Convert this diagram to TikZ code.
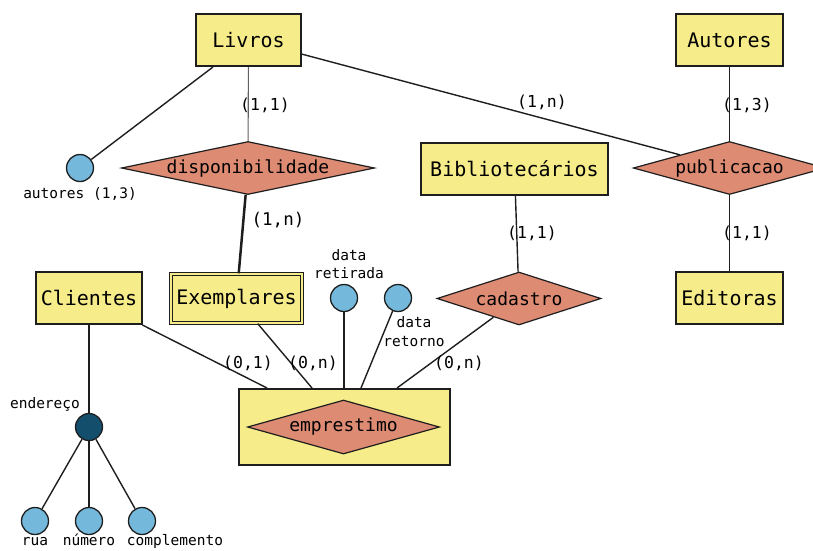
\documentclass[tikz,border=0pt]{standalone}
\usepackage{fontspec}
\setmainfont{DejaVu Sans Mono}
\usetikzlibrary{shapes.geometric}

\definecolor{entfill}{RGB}{246,236,138}
\definecolor{relfill}{RGB}{222,139,116}
\definecolor{attfill}{RGB}{116,185,219}
\definecolor{compfill}{RGB}{19,79,108}
\definecolor{edgecol}{RGB}{30,30,30}

\tikzset{
  entity/.style={draw=edgecol, line width=1.6pt, fill=entfill, inner sep=0pt,
    minimum height=52.4pt, font=\fontsize{20}{24}\selectfont},
  weakentity/.style={entity, double=entfill, double distance=1.8pt, line width=0.95pt},
  relation/.style={diamond, draw=edgecol, line width=1.2pt, fill=relfill, inner sep=0pt,
    aspect=4.8, font=\fontsize{18}{22}\selectfont},
  attr/.style={circle, draw=edgecol, line width=1.3pt, fill=attfill, inner sep=0pt,
    minimum size=27pt},
  compattr/.style={attr, fill=compfill},
  card/.style={inner sep=0pt, font=\fontsize{16.5}{20}\selectfont},
  bigcard/.style={inner sep=0pt, font=\fontsize{17.5}{21}\selectfont},
  attrlabel/.style={inner sep=0pt, align=center, font=\fontsize{14.5}{18.5}\selectfont},
  conn/.style={draw=edgecol, line width=1.4pt},
  strongconn/.style={draw=edgecol, line width=2.5pt},
}

\begin{document}
\begin{tikzpicture}[x=1pt, y=-1pt]
  \useasboundingbox (0,0) rectangle (813,550);

  % entities
  \node[entity, minimum width=105.4pt] (livros) at (248.5,40) {Livros};
  \node[entity, minimum width=107.4pt] (autores) at (729.5,40) {Autores};
  \node[entity, minimum width=187.4pt] (biblio) at (514.5,169) {Bibliotecários};
  \node[entity, minimum width=106.4pt] (clientes) at (89,298) {Clientes};
  \node[weakentity, minimum width=131.4pt, minimum height=49.4pt] (exemplares) at (236.5,298.5) {Exemplares};
  \node[entity, minimum width=107.4pt] (editoras) at (729.5,298) {Editoras};

  % aggregated relationship: box with diamond inside
  \node[entity, minimum width=211.4pt, minimum height=76.4pt] (empbox) at (344.5,427) {};
  \node[relation, minimum width=191pt, minimum height=54pt] (emp) at (343.5,427) {emprestimo};

  % relationships
  \node[relation, minimum width=253pt, minimum height=53pt] (disp) at (248,168) {disponibilidade};
  \node[relation, minimum width=182pt, minimum height=53pt] (pub) at (729.5,168) {publicacao};
  \node[relation, minimum width=164pt, minimum height=53pt] (cad) at (519,298.5) {cadastro};

  % attributes
  \node[attr] (aut) at (80,168) {};
  \node[attr] (dret) at (344,298) {};
  \node[attr] (dretorno) at (398,298) {};
  \node[compattr] (end) at (89,427) {};
  \node[attr] (rua) at (35,521) {};
  \node[attr] (num) at (89,521) {};
  \node[attr] (comp) at (142,521) {};

  % connectors
  \draw[conn] (livros) -- (aut);
  \draw[conn, draw=edgecol!70, line width=1.1pt] (livros) -- (disp);
  \draw[conn] (livros) -- (pub);
  \draw[conn] (autores) -- (pub);
  \draw[conn] (pub) -- (editoras);
  \draw[strongconn] (disp) -- (exemplares);
  \draw[conn] (biblio) -- (cad);
  \draw[conn] (clientes) -- ([xshift=-77.5pt]empbox.north);
  \draw[conn] (exemplares) -- ([xshift=-32.5pt]empbox.north);
  \draw[conn] (dret) -- ([xshift=-0.5pt]empbox.north);
  \draw[conn] (dretorno) -- ([xshift=16.5pt]empbox.north);
  \draw[conn] (cad) -- ([xshift=52.5pt]empbox.north);
  \draw[conn] (clientes) -- (end);
  \draw[conn] (end) -- (rua);
  \draw[conn] (end) -- (num);
  \draw[conn] (end) -- (comp);

  % cardinalities
  \node[card] (c1) at (265,105) {(1,1)};
  \node[card] (c2) at (542,102) {(1,n)};
  \node[card] (c3) at (747,105) {(1,3)};
  \node[bigcard] (c4) at (278,220) {(1,n)};
  \node[card] (c5) at (532,233) {(1,1)};
  \node[card] (c6) at (747,233) {(1,1)};
  \node[card] (c7) at (248,363) {(0,1)};
  \node[card] (c8) at (313,363) {(0,n)};
  \node[card] (c9) at (459,363) {(0,n)};

  % attribute names
  \node[attrlabel] (laut) at (80,194) {autores (1,3)};
  \node[attrlabel] (ldret) at (349,264) {data\\retirada};
  \node[attrlabel] (ldretorno) at (414,331.5) {data\\retorno};
  \node[attrlabel] (lend) at (45,404) {endereço};
  \node[attrlabel, anchor=base] (lrua) at (35,545.5) {rua};
  \node[attrlabel, anchor=base] (lnum) at (89,545.5) {número};
  \node[attrlabel, anchor=base] (lcomp) at (175,545.5) {complemento};
\end{tikzpicture}
\end{document}
